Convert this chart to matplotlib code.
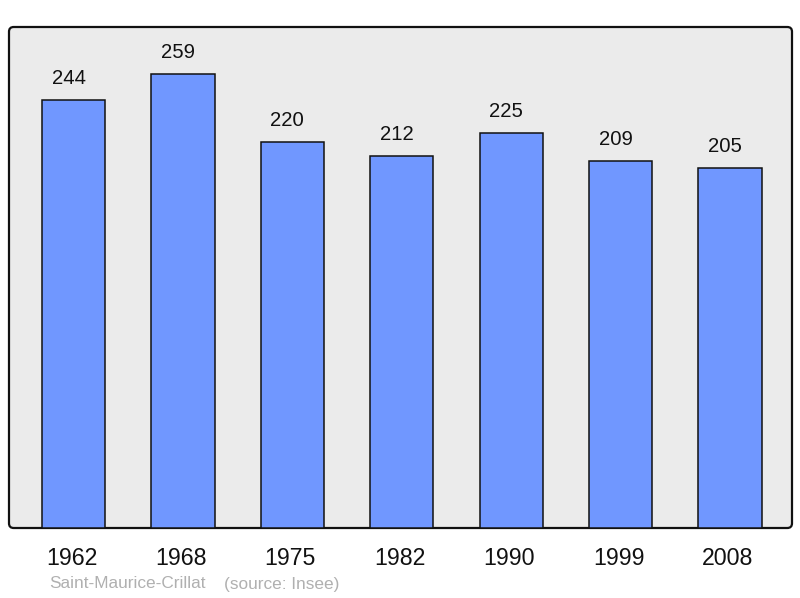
import matplotlib
matplotlib.use("Agg")
import matplotlib.pyplot as plt
from matplotlib.patches import FancyBboxPatch
from matplotlib.transforms import ScaledTranslation

years = ["1962", "1968", "1975", "1982", "1990", "1999", "2008"]
population = [244, 259, 220, 212, 225, 209, 205]
commune = "Saint-Maurice-Crillat"
source = "(source: Insee)"

plt.rcParams['font.family'] = ['Liberation Sans', 'DejaVu Sans']

W, H = 800, 598
fig = plt.figure(figsize=(W/100, H/100), dpi=100)
left, right, top, bottom = 9, 792, 27, 528
ax = fig.add_axes([left/W, 1-bottom/H, (right-left)/W, (bottom-top)/H])
ax.set_facecolor('none')
for s in ax.spines.values():
    s.set_visible(False)

aw, ah = right-left, bottom-top
frame = FancyBboxPatch((0, 0), 1, 1, boxstyle="round,pad=0,rounding_size=0.006",
                       mutation_aspect=aw/ah, transform=ax.transAxes,
                       facecolor='#ebebeb', edgecolor='#111111', linewidth=1.6,
                       zorder=0, clip_on=False)
ax.add_patch(frame)

x = list(range(len(years)))
ax.bar(x, population, width=0.578, color='#7097ff', edgecolor='#111111', linewidth=1.1, zorder=2)
for xi, v in zip(x, population):
    ax.annotate(str(v), (xi, v), xytext=(-3.6, 15.5), textcoords='offset points',
                ha='center', va='center', fontsize=14.6, color='#111111')

ax.set_xlim(-0.59, 6.567)
ax.set_ylim(0, 285.6)
ax.set_xticks(x)
ax.set_xticklabels(years, fontsize=16.7, color='#111111')
ax.tick_params(axis='x', length=0, pad=14)
ax.set_yticks([])
shift = ScaledTranslation(-2/100, 0, fig.dpi_scale_trans)
for lab in ax.get_xticklabels():
    lab.set_transform(lab.get_transform() + shift)

fig.text(49/W, 1-584/H, commune, fontsize=12.4, color='#b0b0b0', va='center', ha='left')
fig.text(224/W, 1-584/H, source, fontsize=12.4, color='#b0b0b0', va='center', ha='left')

fig.savefig("out.png", dpi=100)
